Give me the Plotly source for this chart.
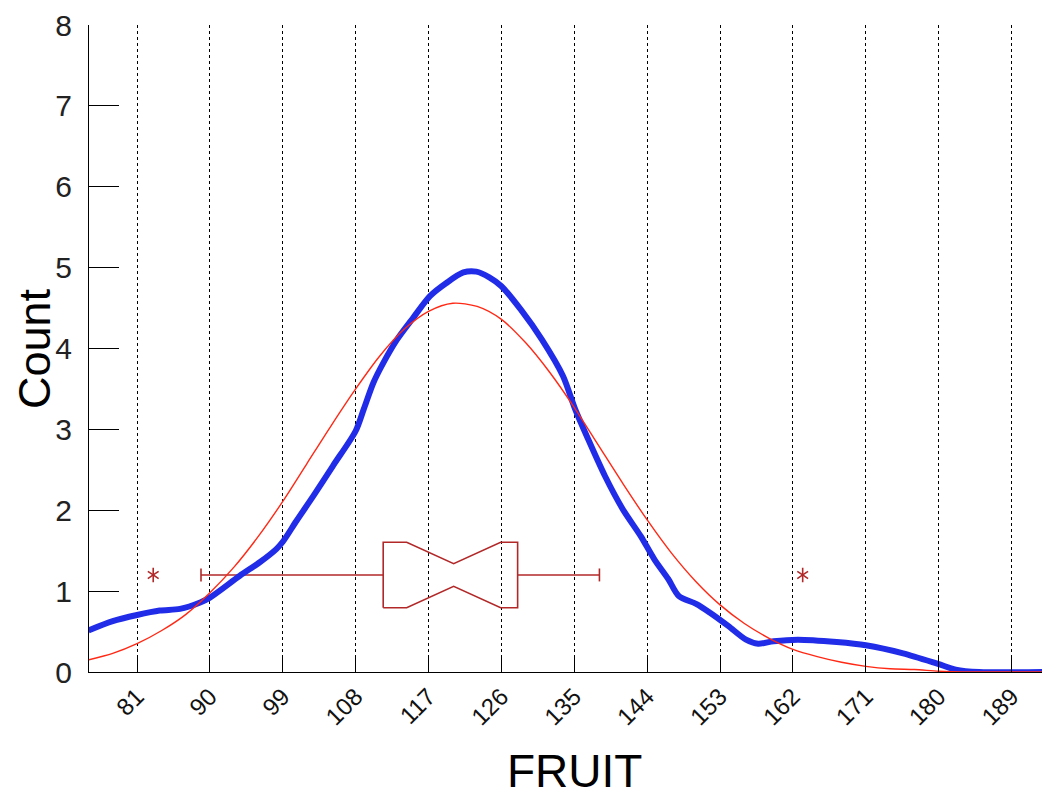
import plotly.graph_objects as go

# ---- data ----
tick_vals = [81, 90, 99, 108, 117, 126, 135, 144, 153, 162, 171, 180, 189]
y_ticks = [0, 1, 2, 3, 4, 5, 6, 7, 8]

kde_x = [75, 78, 81, 83.8, 86.3, 88.8, 90, 93.7, 96.2, 98.2, 99, 100.7, 102.8, 105.2,
         108, 109, 110.2, 111.4, 113.1, 115.1, 117.2, 119.2, 121.3, 122.9, 124.5, 126,
         128.4, 131, 133.6, 135.1, 136.7, 138.8, 141, 143.2, 144.9, 146.6, 147.9, 150.1,
         151.8, 154, 156.2, 157.7, 159.6, 162.6, 167.4, 171, 175.6, 179.9, 182.1, 185, 194]
kde_y = [0.515, 0.63, 0.705, 0.76, 0.78, 0.86, 0.92, 1.19, 1.36, 1.52, 1.61, 1.87, 2.18, 2.55,
         2.98, 3.25, 3.58, 3.82, 4.11, 4.38, 4.65, 4.81, 4.94, 4.95, 4.88, 4.77,
         4.48, 4.11, 3.66, 3.25, 2.88, 2.42, 2.01, 1.68, 1.39, 1.15, 0.94, 0.84,
         0.73, 0.57, 0.40, 0.35, 0.38, 0.40, 0.37, 0.33, 0.23, 0.10, 0.03, 0.0, 0.0]

fit_x = [75, 78, 81, 84, 87, 90, 93, 96, 99, 102, 105, 108, 111, 114, 117, 120, 123, 126,
         129, 132, 135, 138, 141, 144, 147, 150, 153, 156, 159, 162, 165, 168, 171, 174,
         177, 180, 183, 186, 194]
fit_y = [0.15, 0.23, 0.35, 0.51, 0.71, 0.98, 1.30, 1.68, 2.11, 2.58, 3.05, 3.50, 3.91, 4.24,
         4.46, 4.56, 4.52, 4.36, 4.07, 3.70, 3.27, 2.80, 2.33, 1.88, 1.47, 1.12, 0.83, 0.60,
         0.42, 0.28, 0.19, 0.12, 0.07, 0.04, 0.03, 0.01, 0.0, 0.0, 0.0]

# box-plot statistics
box_q1 = 111.4
box_median = 120.1
box_q3 = 128.0
box_lowerfence = 88.9
box_upperfence = 138.1
box_notchspan = 5.8
box_pos = 1.2
outlier_x = [83.0, 163.2]

FONT = "Liberation Sans, Arial, sans-serif"
BOXCOL = "rgb(178,40,40)"

# box geometry (style): half height, notch waist half height, cap half height
H, W, C = 0.405, 0.14, 0.08
lo, hi = box_median - box_notchspan, box_median + box_notchspan
bx = [box_q1, box_q1, lo, box_median, hi, box_q3, box_q3, hi, box_median, lo, box_q1, None,
      box_lowerfence, box_q1, None, box_q3, box_upperfence, None,
      box_lowerfence, box_lowerfence, None, box_upperfence, box_upperfence]
by = [box_pos - H, box_pos + H, box_pos + H, box_pos + W, box_pos + H, box_pos + H,
      box_pos - H, box_pos - H, box_pos - W, box_pos - H, box_pos - H, None,
      box_pos, box_pos, None, box_pos, box_pos, None,
      box_pos - C, box_pos + C, None, box_pos - C, box_pos + C]

fig = go.Figure()

fig.add_trace(go.Scatter(x=bx, y=by, mode="lines", line=dict(color=BOXCOL, width=1.6),
                         showlegend=False, hoverinfo="skip"))

for sym in ["y-up-open", "y-down-open"]:
    fig.add_trace(go.Scatter(
        x=outlier_x, y=[box_pos] * len(outlier_x), mode="markers",
        marker=dict(symbol=sym, size=9, color=BOXCOL, line=dict(color=BOXCOL, width=1.6)),
        showlegend=False))

fig.add_trace(go.Scatter(
    x=kde_x, y=kde_y, mode="lines",
    line=dict(color="rgb(32,44,232)", width=6, shape="spline", smoothing=0.8),
    showlegend=False))

fig.add_trace(go.Scatter(
    x=fit_x, y=fit_y, mode="lines",
    line=dict(color="rgb(255,40,20)", width=1.4, shape="spline", smoothing=0.8),
    showlegend=False))

fig.update_layout(
    width=1042, height=791,
    margin=dict(l=81, r=0, t=17, b=127),
    paper_bgcolor="white", plot_bgcolor="white",
    font=dict(family=FONT, color="#111"),
    showlegend=False,
    xaxis=dict(range=[75.07, 193.74], tickmode="array", tickvals=tick_vals,
               ticktext=[str(v) for v in tick_vals], tickangle=-45,
               tickfont=dict(size=24, family=FONT, color="#111"),
               ticks="inside", ticklen=17, tickcolor="black", tickwidth=1,
               showline=True, linecolor="black", linewidth=1.3,
               showgrid=True, gridcolor="black", griddash="dot", gridwidth=1,
               zeroline=False),
    yaxis=dict(range=[0, 8], tickmode="array", tickvals=y_ticks,
               tickfont=dict(size=30, family=FONT, color="#222"),
               ticks="inside", ticklen=30, tickcolor="black", tickwidth=1,
               ticklabelstandoff=10,
               showline=True, linecolor="black", linewidth=1.3,
               showgrid=False, zeroline=False),
    annotations=[
        dict(text="Count", xref="paper", yref="paper", x=-0.0562, y=0.5008,
             xanchor="center", yanchor="middle", textangle=-90, showarrow=False,
             font=dict(size=45, family=FONT, color="black")),
        dict(text="FRUIT", xref="paper", yref="paper", x=0.5047, y=-0.153,
             xanchor="center", yanchor="middle", showarrow=False,
             font=dict(size=46, family=FONT, color="black")),
    ],
)

fig.write_html("out.html")
